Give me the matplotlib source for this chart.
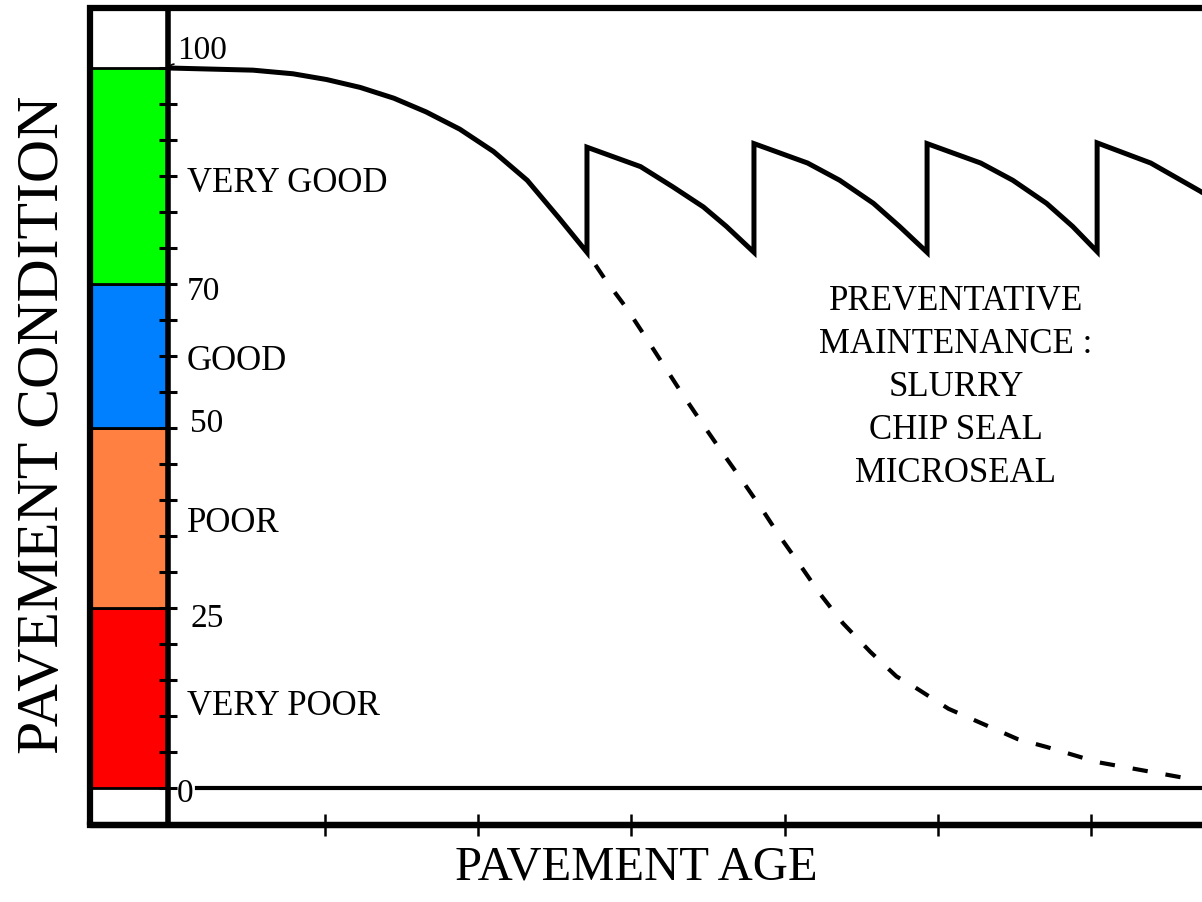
import matplotlib
matplotlib.use("Agg")
import matplotlib.pyplot as plt
from matplotlib.patches import Rectangle

plt.rcParams['font.family'] = ['Liberation Serif', 'DejaVu Serif']
plt.rcParams['lines.scale_dashes'] = False

# ---------------- data ----------------
band_names = ["VERY POOR", "POOR", "GOOD", "VERY GOOD"]
band_low = [0, 25, 50, 70]
band_high = [25, 50, 70, 100]
band_colors = ["#FF0000", "#FF8040", "#0080FF", "#00FF00"]
threshold_values = [0, 25, 50, 70, 100]
threshold_labels = ["0", "25", "50", "70", "100"]
condition_ticks = list(range(0, 101, 5))
age_ticks = [1, 2, 3, 4, 5, 6]

# initial deterioration until the first treatment
decline_age = [-0.02, 0.53, 0.79, 1.01, 1.23, 1.45, 1.66, 1.88, 2.10, 2.32, 2.53, 2.71]
decline_cond = [100.0, 99.7, 99.2, 98.4, 97.3, 95.8, 93.9, 91.5, 88.4, 84.4, 79.1, 74.4]

# preventative maintenance cycles
cycle1_age = [2.71, 3.06, 3.27, 3.47, 3.62, 3.80]
cycle1_cond = [89.0, 86.3, 83.5, 80.7, 78.0, 74.4]
cycle2_age = [3.80, 4.15, 4.36, 4.58, 4.75, 4.93]
cycle2_cond = [89.5, 86.8, 84.4, 81.2, 78.0, 74.4]
cycle3_age = [4.93, 5.28, 5.49, 5.71, 5.88, 6.04]
cycle3_cond = [89.5, 86.8, 84.4, 81.2, 78.0, 74.5]
cycle4_age = [6.04, 6.39, 6.72, 6.85]
cycle4_cond = [89.6, 86.8, 82.8, 80.8]

# deterioration without maintenance (dashed)
nomaint_age = [2.71, 2.83, 2.97, 3.09, 3.21, 3.33, 3.46, 3.59, 3.72, 3.85, 3.97,
               4.10, 4.23, 4.38, 4.56, 4.73, 4.85, 5.07, 5.52, 5.71, 6.04, 6.61]
nomaint_cond = [74.4, 70.6, 66.6, 62.7, 58.75, 54.8, 50.7, 46.7, 42.8, 38.8, 34.9,
                31.0, 27.0, 22.9, 18.9, 15.5, 14.0, 11.0, 6.8, 5.7, 3.6, 1.4]

maint_text = "PREVENTATIVE\nMAINTENANCE :\nSLURRY\nCHIP SEAL\nMICROSEAL"

# ---------------- layout ----------------
W, H = 1202, 902
fig = plt.figure(figsize=(W / 100, H / 100), dpi=100)
fig.patch.set_facecolor("white")

fl, fr, ft, fb = 89.5, 1215.0, 8.0, 825.0          # frame in pixels
px0, pxu = 171.8, 153.2                            # age 0 pixel, px per age unit
py0, pyu = 788.0, 7.2                              # cond 0 pixel, px per cond unit

ax = fig.add_axes([fl / W, 1 - fb / H, (fr - fl) / W, (fb - ft) / H])
xmin, xmax = (fl - px0) / pxu, (fr - px0) / pxu
ax.set_xlim(xmin, xmax)
ax.set_ylim((py0 - fb) / pyu, (py0 - ft) / pyu)
ax.set_facecolor("white")

yaxis_x = (167.8 - px0) / pxu

# colour bands
heights = [h - l for l, h in zip(band_low, band_high)]
ax.barh(band_low, [yaxis_x - xmin] * len(band_low), height=heights, left=xmin,
        align="edge", color=band_colors, edgecolor="black", linewidth=2, zorder=1)

# zero line
ax.axhline(0, xmin=(197 - fl) / (fr - fl), xmax=1, color="black", lw=3, zorder=2)

# frame
ax.add_patch(Rectangle((0, 0), 1, 1, transform=ax.transAxes, fill=False,
                       edgecolor="black", lw=4.5, clip_on=False, zorder=6))

for s in ["top", "right"]:
    ax.spines[s].set_visible(False)
ax.spines["left"].set_position(("data", yaxis_x))
ax.spines["left"].set_linewidth(4)
ax.spines["left"].set_zorder(5)
ax.spines["bottom"].set_linewidth(4.5)

ax.set_yticks(condition_ticks)
ax.set_yticklabels([])
ax.tick_params(axis="y", direction="inout", length=13.5, width=2.2, color="black")
ax.set_xticks(age_ticks)
ax.set_xticklabels([])
ax.tick_params(axis="x", direction="inout", length=16, width=1.8, color="black")

# curves
solid_age = decline_age + cycle1_age + cycle2_age + cycle3_age + cycle4_age
solid_cond = decline_cond + cycle1_cond + cycle2_cond + cycle3_cond + cycle4_cond
ax.plot(solid_age, solid_cond, color="black", lw=3.6, solid_joinstyle="miter",
        solid_capstyle="butt", zorder=4)
ax.plot(nomaint_age, nomaint_cond, color="black", lw=3.0,
        linestyle=(13, (11, 13)), dash_capstyle="butt", zorder=4)

# threshold numbers
num_x = {"0": 0.032, "25": 0.12, "50": 0.12, "70": 0.097, "100": 0.032}
num_dy = {"0": -1.9, "25": -2.6, "50": -0.6, "70": -2.2, "100": 1.3}
for v, lab in zip(threshold_values, threshold_labels):
    if lab == "100":
        ax.annotate(lab, xy=(yaxis_x, v), xytext=(num_x[lab], v + num_dy[lab]),
                    fontsize=24, va="baseline", ha="left",
                    arrowprops=dict(arrowstyle="-", lw=1.2, color="black",
                                    shrinkA=0, shrinkB=0, relpos=(0.0, 0.05),
                                    connectionstyle="arc3,rad=0.3"))
    else:
        ax.text(num_x[lab], v + num_dy[lab], lab, fontsize=24, va="baseline",
                ha="left", zorder=7)

# band names
name_dy = {"VERY POOR": 10.1, "POOR": 35.6, "GOOD": 58.1, "VERY GOOD": 82.8}
for name in band_names:
    ax.text(0.10, name_dy[name], name, fontsize=25, va="baseline", ha="left")

# maintenance text (baseline of last line)
ax.text((956 - px0) / pxu, (py0 - 481.7) / pyu, maint_text, fontsize=25,
        ha="center", va="baseline", multialignment="center", linespacing=1.4)

# axis titles
fig.text(636.5 / W, 1 - 880 / H, "PAVEMENT AGE", fontsize=35, ha="center", va="baseline")
fig.text(58 / W, 1 - 425 / H, "PAVEMENT CONDITION", fontsize=43, rotation=90,
         rotation_mode="anchor", ha="center", va="baseline")

fig.savefig("out.png", dpi=100, facecolor="white")
